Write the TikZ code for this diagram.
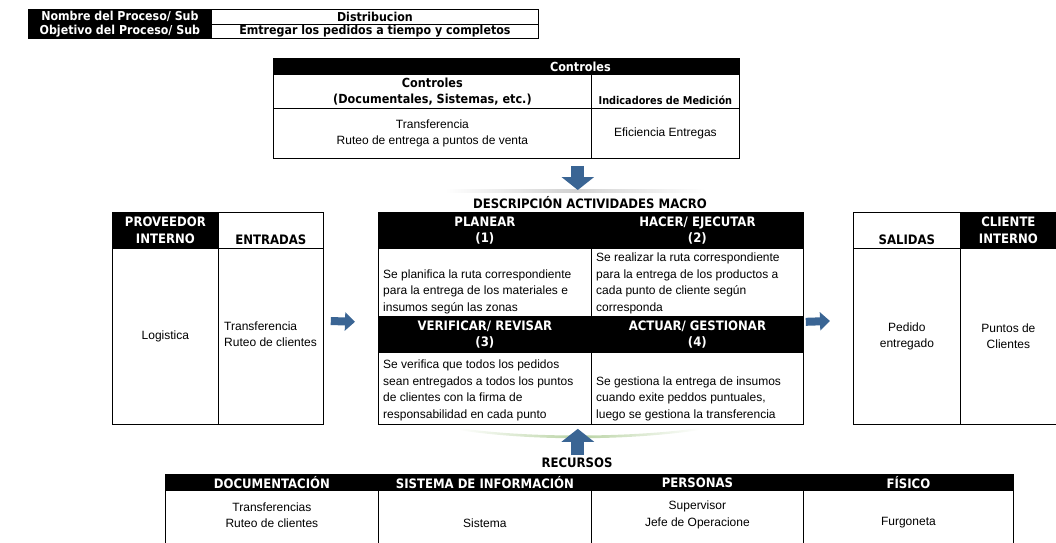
\documentclass[tikz,border=0pt]{standalone}
\usepackage{fontspec}
\setmainfont{Liberation Sans}
\newfontfamily\hdfont{DejaVu Sans Condensed}
\usetikzlibrary{arrows.meta,calc}

\definecolor{arrowblue}{HTML}{3A6594}
\definecolor{glowgreen}{HTML}{B9D3A4}

\begin{document}
\begin{tikzpicture}[x=1pt,y=-1pt,
  cell/.style={draw=black, line width=0.8pt, fill=white, inner sep=0pt, anchor=north west},
  hcell/.style={cell, fill=black},
  body/.style={font=\fontsize{12}{16.5}\selectfont, inner sep=0pt, align=center},
  bodyl/.style={body, align=left},
  head/.style={font=\hdfont\bfseries\fontsize{13}{16.5}\selectfont, inner sep=0pt, align=center},
  headw/.style={head, text=white},
  headm/.style={head, font=\hdfont\bfseries\fontsize{12.5}{16.5}\selectfont},
  headt/.style={head, font=\hdfont\bfseries\fontsize{12.3}{14}\selectfont},
  fatarrow/.style={draw=arrowblue, line width=8pt, -{Triangle[width=18pt,length=10pt]}},
  fatarrowv/.style={draw=arrowblue, line width=13pt, -{Triangle[width=32pt,length=13pt]}}
]
\useasboundingbox (0,0) rectangle (1056,542);

% process name and objective
\node[hcell, minimum width=183pt, minimum height=14.5pt, headt, text=white] (nomL) at (28,9) {Nombre del Proceso/ Sub};
\node[cell, minimum width=327pt, minimum height=14.5pt, headt] (nomR) at (211,9) {Distribucion};
\node[hcell, minimum width=183pt, minimum height=14.5pt, headt, text=white] (objL) at (28,23.5) {Objetivo del Proceso/ Sub};
\node[cell, minimum width=327pt, minimum height=14.5pt, headt] (objR) at (211,23.5) {Emtregar los pedidos a tiempo y completos};

% controls table
\node[hcell, minimum width=466pt, minimum height=16pt] (ctl) at (273,58) {};
\node[headm, text=white] (ctlt) at ($(ctl.center)+(74,0)$) {Controles};
\node[cell, minimum width=318pt, minimum height=34pt, headm] (ctlA) at (273,74) {Controles\\(Documentales, Sistemas, etc.)};
\node[cell, minimum width=148pt, minimum height=34pt] (ctlB) at (591,74) {};
\node[headm, font=\hdfont\bfseries\fontsize{10.8}{14}\selectfont, anchor=base] (ctlBt) at ($(ctlB.south)+(0,-4)$) {Indicadores de Medición};
\node[cell, minimum width=318pt, minimum height=50pt, body] (ctlC) at (273,108) {Transferencia\\Ruteo de entrega a puntos de venta};
\node[cell, minimum width=148pt, minimum height=50pt, body] (ctlD) at (591,108) {Eficiencia Entregas};

% soft glows
\shade[left color=white, right color=white, middle color=black!18] (445,189) rectangle (705,192);
\shade[left color=white, right color=white, middle color=glowgreen]
  (458,428) .. controls (530,438) and (625,438) .. (700,428) -- (700,430)
  .. controls (625,441) and (530,441) .. (458,430) -- cycle;

\node[head] (macro) at (590,203) {DESCRIPCIÓN ACTIVIDADES MACRO};

% PHVA grid
\node[hcell, minimum width=213pt, minimum height=36pt, headw] (planH) at (378,212) {PLANEAR\\(1)};
\node[hcell, minimum width=212pt, minimum height=36pt, headw] (hacerH) at (591,212) {HACER/ EJECUTAR\\(2)};
\node[cell, minimum width=213pt, minimum height=68pt] (planB) at (378,248) {};
\node[cell, minimum width=212pt, minimum height=68pt] (hacerB) at (591,248) {};
\node[hcell, minimum width=213pt, minimum height=36pt, headw] (verifH) at (378,316) {VERIFICAR/ REVISAR\\(3)};
\node[hcell, minimum width=212pt, minimum height=36pt, headw] (actH) at (591,316) {ACTUAR/ GESTIONAR\\(4)};
\node[cell, minimum width=213pt, minimum height=72pt] (verifB) at (378,352) {};
\node[cell, minimum width=212pt, minimum height=72pt] (actB) at (591,352) {};

\node[bodyl, anchor=south west] (planT) at ($(planB.south west)+(5,-3)$) {Se planifica la ruta correspondiente\\para la entrega de los materiales e\\insumos según las zonas};
\node[bodyl, anchor=south west] (hacerT) at ($(hacerB.south west)+(5,-3)$) {Se realizar la ruta correspondiente\\para la entrega de los productos a\\cada punto de cliente según\\corresponda};
\node[bodyl, anchor=south west] (verifT) at ($(verifB.south west)+(5,-4)$) {Se verifica que todos los pedidos\\sean entregados a todos los puntos\\de clientes con la firma de\\responsabilidad en cada punto};
\node[bodyl, anchor=south west] (actT) at ($(actB.south west)+(5,-4)$) {Se gestiona la entrega de insumos\\cuando exite peddos puntuales,\\luego se gestiona la transferencia};

% supplier and inputs
\node[hcell, minimum width=106pt, minimum height=36pt, headw] (prov) at (112,212) {PROVEEDOR\\INTERNO};
\node[cell, minimum width=105pt, minimum height=36pt] (ent) at (218,212) {};
\node[head, anchor=base] (entt) at ($(ent.south)+(0,-4)$) {ENTRADAS};
\node[cell, minimum width=106pt, minimum height=176pt, body] (provB) at (112,248) {Logistica};
\node[cell, minimum width=105pt, minimum height=176pt] (entB) at (218,248) {};
\node[bodyl, anchor=west] (entT) at ($(entB.west)+(6,-2)$) {Transferencia\\Ruteo de clientes};

% outputs and client
\node[cell, minimum width=107pt, minimum height=36pt] (sal) at (853,212) {};
\node[head, anchor=base] (salt) at ($(sal.south)+(0,-4)$) {SALIDAS};
\node[hcell, minimum width=96pt, minimum height=36pt, headw] (cli) at (960,212) {CLIENTE\\INTERNO};
\node[cell, minimum width=107pt, minimum height=176pt, body] (salB) at (853,248) {Pedido\\entregado};
\node[cell, minimum width=96pt, minimum height=176pt, body] (cliB) at (960,248) {Puntos de\\Clientes};

% resources
\node[head] (rec) at (577,463) {RECURSOS};
\node[hcell, minimum width=213pt, minimum height=16pt, headw] (doc) at (165,474) {DOCUMENTACIÓN};
\node[hcell, minimum width=213pt, minimum height=16pt, headw] (sis) at (378,474) {SISTEMA DE INFORMACIÓN};
\node[hcell, minimum width=212pt, minimum height=16pt, headw] (per) at (591,474) {PERSONAS};
\node[hcell, minimum width=210pt, minimum height=16pt, headw] (fis) at (803,474) {FÍSICO};
\node[cell, minimum width=213pt, minimum height=70pt] (docB) at (165,490) {};
\node[cell, minimum width=213pt, minimum height=70pt] (sisB) at (378,490) {};
\node[cell, minimum width=212pt, minimum height=70pt] (perB) at (591,490) {};
\node[cell, minimum width=210pt, minimum height=70pt] (fisB) at (803,490) {};
\node[body] (docT) at ($(docB.north)+(0,25)$) {Transferencias\\Ruteo de clientes};
\node[body] (sisT) at ($(sisB.north)+(0,33)$) {Sistema};
\node[body] (perT) at ($(perB.north)+(0,25)$) {Supervisor\\Jefe de Operacione};
\node[body] (fisT) at ($(fisB.north)+(0,33)$) {Furgoneta};

% flow arrows
\draw[fatarrowv] ($(ctlC.south east)+(-14,7)$) -- ($(planH.north east)+(-14,-22)$);
\draw[fatarrowv] ($(sis.north east)+(-14,-19)$) -- ($(verifB.south east)+(-14,4)$);
\draw[fatarrow] ($(entB.north east)+(7,73)$) -- ($(planB.south west)+(-23,5)$);
\draw[fatarrow] ($(hacerB.south east)+(2,5)$) -- ($(salB.north west)+(-23,73)$);
\end{tikzpicture}
\end{document}
